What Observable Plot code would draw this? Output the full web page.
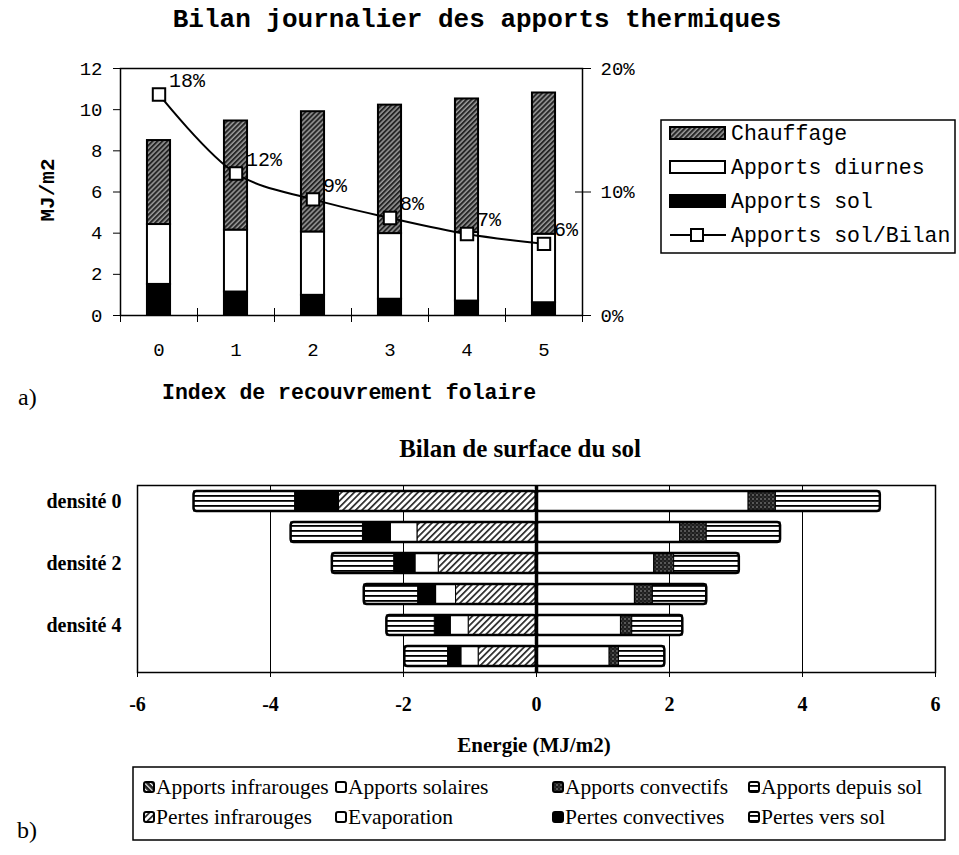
<!DOCTYPE html>
<html lang="fr"><head><meta charset="utf-8"><title>Bilan</title>
<script src="https://cdn.jsdelivr.net/npm/d3@7"></script>
<script src="https://cdn.jsdelivr.net/npm/@observablehq/plot@0.6"></script>
<style>
html,body{margin:0;padding:0;background:#fff}
#page{position:relative;width:959px;height:855px;overflow:hidden;background:#fff}
#top,#bottom,#overlay{position:absolute;left:0}
#top{top:40px}
#bottom{top:470px}
#overlay{top:0;pointer-events:none}
</style></head><body>
<div id="page">
<svg width="0" height="0" style="position:absolute"><defs>
  <pattern id="pChauffage" width="3.5" height="3.5" patternUnits="userSpaceOnUse" patternTransform="rotate(45)">
    <rect width="3.5" height="3.5" fill="#9a9a9a"/><rect width="2" height="3.5" fill="#262626"/>
  </pattern>
  <pattern id="pPertesIR" width="4.5" height="4.5" patternUnits="userSpaceOnUse" patternTransform="rotate(45)">
    <rect width="4.5" height="4.5" fill="#fff"/><rect width="1.7" height="4.5" fill="#2a2a2a"/>
  </pattern>
  <pattern id="pApportsIR" width="4" height="4" patternUnits="userSpaceOnUse" patternTransform="rotate(-45)">
    <rect width="4" height="4" fill="#222"/><rect width="1.2" height="4" fill="#fff"/>
  </pattern>
  <pattern id="pStripes" width="8" height="5" patternUnits="userSpaceOnUse">
    <rect width="8" height="5" fill="#fff"/><rect width="8" height="1.8" fill="#000"/>
  </pattern>
  <pattern id="pDots" width="4" height="4" patternUnits="userSpaceOnUse">
    <rect width="4" height="4" fill="#1e1e1e"/><circle cx="1" cy="1" r="0.7" fill="#bbb"/><circle cx="3" cy="3" r="0.5" fill="#777"/>
  </pattern>
</defs></svg>
<div id="top"></div>
<div id="bottom"></div>
<svg id="overlay" width="959" height="855"></svg>
</div>
<script>
// ---------- (a) Bilan journalier des apports thermiques ----------
const indexRecouvrement = [0, 1, 2, 3, 4, 5];
const apportsSol      = [1.51, 1.14, 0.98, 0.79, 0.70, 0.62];
const apportsDiurnes  = [2.91, 3.01, 3.08, 3.19, 3.33, 3.33];
const chauffage       = [4.08, 5.30, 5.84, 6.24, 6.49, 6.86];
const ratioSolBilan   = [0.179, 0.115, 0.094, 0.079, 0.066, 0.058];
const ratioLabels     = ["18%", "12%", "9%", "8%", "7%", "6%"];
const mjTicks         = [0, 2, 4, 6, 8, 10, 12];
const pctTicks        = [0, 0.10, 0.20];
const topSeries       = ["Apports sol", "Apports diurnes", "Chauffage"];
const topLegendLabels = ["Chauffage", "Apports diurnes", "Apports sol", "Apports sol/Bilan"];

// ---------- (b) Bilan de surface du sol ----------
const densites           = ["densité 0", "densité 1", "densité 2", "densité 3", "densité 4", "densité 5"];
const pertesInfrarouges  = [2.97, 1.79, 1.47, 1.21, 1.02, 0.87];
const evaporation        = [0.00, 0.40, 0.35, 0.30, 0.27, 0.26];
const pertesConvectives  = [0.66, 0.42, 0.32, 0.27, 0.24, 0.20];
const pertesVersSol      = [1.52, 1.08, 0.93, 0.81, 0.72, 0.65];
const apportsInfrarouges = [0, 0, 0, 0, 0, 0];
const apportsSolaires    = [3.19, 2.16, 1.77, 1.48, 1.27, 1.10];
const apportsConvectifs  = [0.41, 0.40, 0.30, 0.27, 0.17, 0.14];
const apportsDepuisSol   = [1.57, 1.11, 0.98, 0.81, 0.76, 0.69];
const energieTicks       = [-6, -4, -2, 0, 2, 4, 6];
const gridTicks          = [-4, -2, 2, 4];
const bottomSeries = ["Apports infrarouges", "Apports solaires", "Apports convectifs", "Apports depuis sol",
                      "Pertes infrarouges", "Evaporation", "Pertes convectives", "Pertes vers sol"];

// ---------- build tables ----------
const K = 12 / 0.20; // right axis (ratio) -> left axis (MJ/m2)
const topRows = indexRecouvrement.flatMap((x, i) => [
  {x, serie: "Apports sol", v: apportsSol[i]},
  {x, serie: "Apports diurnes", v: apportsDiurnes[i]},
  {x, serie: "Chauffage", v: chauffage[i]}
]);
const ratioRows = indexRecouvrement.map((x, i) => ({x, r: ratioSolBilan[i], label: ratioLabels[i]}));
const bounds = [...indexRecouvrement.map(x => x - 0.5), indexRecouvrement[indexRecouvrement.length - 1] + 0.5];
const half = 0.15;

const topChart = Plot.plot({
  width: 660, height: 330, marginTop: 28, marginRight: 78, marginBottom: 55, marginLeft: 120,
  style: {fontFamily: "'Liberation Mono', monospace", fontSize: "19px", color: "#000", background: "transparent", overflow: "visible"},
  x: {type: "linear", domain: [-0.5, 5.5]},
  y: {domain: [0, 12]},
  color: {type: "ordinal", domain: topSeries, range: ["#000", "#fff", "url(#pChauffage)"]},
  marks: [
    Plot.rectY(topRows, Plot.stackY({x1: d => d.x - half, x2: d => d.x + half, y: "v", fill: "serie", stroke: "#000", strokeWidth: 2})),
    Plot.line(ratioRows, {x: "x", y: d => d.r * K, curve: "catmull-rom", stroke: "#000", strokeWidth: 2}),
    Plot.dot(ratioRows, {x: "x", y: d => d.r * K, symbol: "square", r: 7, fill: "#fff", stroke: "#000", strokeWidth: 2}),
    Plot.text(ratioRows, {x: "x", y: d => d.r * K, text: "label", dx: 10, dy: -14, textAnchor: "start", fontSize: 20}),
    Plot.frame({stroke: "#000", strokeWidth: 1.5}),
    Plot.axisY(mjTicks, {anchor: "left", tickSize: 7, tickPadding: 11, label: null}),
    Plot.axisY(pctTicks.map(p => p * K), {anchor: "right", tickSize: 8, tickPadding: 10, tickFormat: d => Math.round(d / K * 100) + "%", label: null}),
    Plot.ruleY(pctTicks.map(p => p * K), {x1: 5.5, x2: 5.5, insetLeft: -7, insetRight: 0, stroke: "#000"}),
    Plot.ruleX(bounds, {y1: 0, y2: 0, insetTop: -7, insetBottom: -7, stroke: "#000"}),
    Plot.axisX(indexRecouvrement, {tickSize: 0, tickPadding: 27, label: null})
  ]
});
document.getElementById("top").appendChild(topChart);

const solRows = [];
const pertes = [["Pertes infrarouges", pertesInfrarouges], ["Evaporation", evaporation],
                ["Pertes convectives", pertesConvectives], ["Pertes vers sol", pertesVersSol]];
const apports = [["Apports infrarouges", apportsInfrarouges], ["Apports solaires", apportsSolaires],
                 ["Apports convectifs", apportsConvectifs], ["Apports depuis sol", apportsDepuisSol]];
densites.forEach((d, i) => {
  for (const [s, arr] of pertes) solRows.push({densite: d, serie: s, v: -arr[i]});
  for (const [s, arr] of apports) solRows.push({densite: d, serie: s, v: arr[i]});
});
const bottomFills = ["url(#pApportsIR)", "#fff", "url(#pDots)", "url(#pStripes)",
                     "url(#pPertesIR)", "#fff", "#000", "url(#pStripes)"];

const bottomChart = Plot.plot({
  width: 959, height: 250, marginTop: 15, marginRight: 24, marginBottom: 48, marginLeft: 137,
  style: {fontFamily: "'Liberation Serif', serif", fontSize: "20px", fontWeight: "bold", color: "#000", background: "transparent", overflow: "visible"},
  x: {domain: [-6, 6]},
  y: {domain: densites, paddingInner: 0.35, paddingOuter: 0.16},
  color: {type: "ordinal", domain: bottomSeries, range: bottomFills},
  marks: [
    Plot.ruleX(gridTicks, {stroke: "#000", strokeWidth: 1}),
    Plot.barX(solRows.filter(d => d.v !== 0), Plot.stackX({y: "densite", x: "v", fill: "serie", stroke: "#000", strokeWidth: 1})),
    Plot.barX(solRows.filter(d => d.v < 0), Plot.groupY({x: "sum"}, {y: "densite", x: "v", fill: "none", stroke: "#000", strokeWidth: 2.5, rx: 3})),
    Plot.barX(solRows.filter(d => d.v > 0), Plot.groupY({x: "sum"}, {y: "densite", x: "v", fill: "none", stroke: "#000", strokeWidth: 2.5, rx: 3})),
    Plot.ruleX([0], {stroke: "#000", strokeWidth: 3.5}),
    Plot.frame({stroke: "#000", strokeWidth: 1.5}),
    Plot.axisX(energieTicks, {tickSize: 5, tickPadding: 19, tickFormat: d => String(d), label: null}),
    Plot.axisY({tickSize: 0, tickPadding: 16, tickFormat: d => densites.indexOf(d) % 2 === 0 ? d : "", label: null})
  ]
});
document.getElementById("bottom").appendChild(bottomChart);

// ---------- titles, labels, legends ----------
const ov = d3.select("#overlay");
const mono = "'Liberation Mono', monospace", serif = "'Liberation Serif', serif";
function txt(x, y, s, font, size, weight, anchor) {
  return ov.append("text").attr("x", x).attr("y", y).text(s)
    .attr("font-family", font).attr("font-size", size).attr("font-weight", weight || "normal")
    .attr("text-anchor", anchor || "start").attr("fill", "#000");
}
txt(477, 27, "Bilan journalier des apports thermiques", mono, 26, "bold", "middle");
txt(0, 0, "MJ/m2", mono, 21, "bold", "middle").attr("transform", "translate(54,190) rotate(-90)");
txt(162, 399, "Index de recouvrement folaire", mono, 21.5, "bold");
txt(18, 405, "a)", serif, 24);
txt(520, 457, "Bilan de surface du sol", serif, 25, "bold", "middle");
txt(534, 752, "Energie (MJ/m2)", serif, 21, "bold", "middle");
txt(17, 838, "b)", serif, 24);

// top legend
ov.append("rect").attr("x", 661).attr("y", 120).attr("width", 294).attr("height", 133)
  .attr("fill", "#fff").attr("stroke", "#000").attr("stroke-width", 1.5);
const topLegendFills = ["url(#pChauffage)", "#fff", "#000"];
topLegendLabels.forEach((lab, i) => {
  const cy = 133 + i * 34;
  if (i < 3) {
    ov.append("rect").attr("x", 670).attr("y", cy - 6).attr("width", 55).attr("height", 12)
      .attr("fill", topLegendFills[i]).attr("stroke", "#000").attr("stroke-width", 2);
  } else {
    ov.append("line").attr("x1", 670).attr("x2", 726).attr("y1", cy).attr("y2", cy).attr("stroke", "#000").attr("stroke-width", 2);
    ov.append("rect").attr("x", 691).attr("y", cy - 6).attr("width", 12).attr("height", 12)
      .attr("fill", "#fff").attr("stroke", "#000").attr("stroke-width", 2);
  }
  txt(731, cy + 7, lab, mono, 21.5);
});

// bottom legend
ov.append("rect").attr("x", 133).attr("y", 767).attr("width", 812).attr("height", 73)
  .attr("fill", "#fff").attr("stroke", "#000").attr("stroke-width", 1.5);
const colX = [144, 336, 553, 749];
bottomSeries.forEach((s, i) => {
  const cx = colX[i % 4], cy = i < 4 ? 787 : 817;
  ov.append("rect").attr("x", cx).attr("y", cy - 5).attr("width", 10).attr("height", 10).attr("rx", 2)
    .attr("fill", bottomFills[i]).attr("stroke", "#000").attr("stroke-width", 2);
  txt(cx + 12, cy + 7, s, serif, 21.5);
});
</script>
</body></html>
